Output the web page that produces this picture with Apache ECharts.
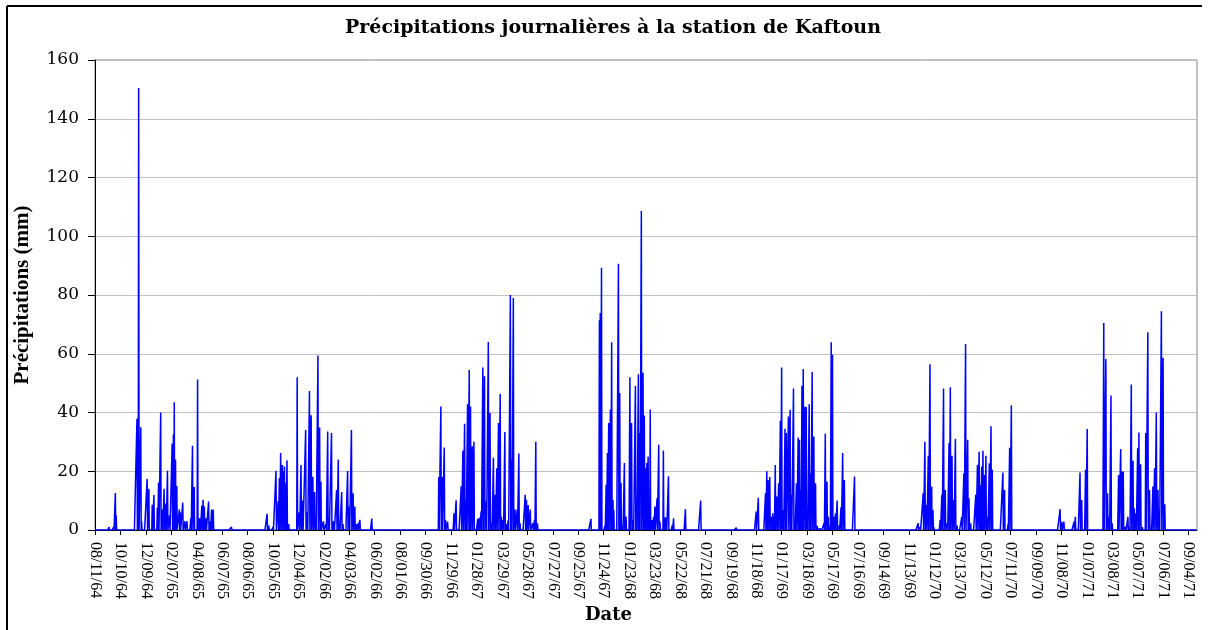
<!DOCTYPE html>
<html>
<head>
<meta charset="utf-8">
<script src="https://cdn.jsdelivr.net/npm/echarts@6/dist/echarts.min.js"></script>
<style>
  html, body { margin: 0; padding: 0; background: #ffffff; }
  #chart { width: 1210px; height: 630px; }
</style>
</head>
<body>
<div id="chart"></div>
<script>
// Tick labels every 60 days, starting 08/11/64
const tickLabels = ['08/11/64','10/10/64','12/09/64','02/07/65','04/08/65','06/07/65','08/06/65','10/05/65','12/04/65','02/02/66','04/03/66','06/02/66','08/01/66','09/30/66','11/29/66','01/28/67','03/29/67','05/28/67','07/27/67','09/25/67','11/24/67','01/23/68','03/23/68','05/22/68','07/21/68','09/19/68','11/18/68','01/17/69','03/18/69','05/17/69','07/16/69','09/14/69','11/13/69','01/12/70','03/13/70','05/12/70','07/11/70','09/09/70','11/08/70','01/07/71','03/08/71','05/07/71','07/06/71','09/04/71'];
const tickStepDays = 60;
const lastDay = 2600; // days since 08/11/64 covered by the record

// Rainy days: day offset since 08/11/64, and daily precipitation (mm). All other days are 0.
const rainDays = [
  33,44,48,50,99,101,103,108,110,123,127,135,139,147,150,155,159,163,167,171,176,182,185,187,190,193,199,201,207,212,217,226,230,234,242,245,248,252,255,258,262,268,272,275,279,322,
  406,410,420,427,432,435,438,442,445,447,450,453,457,477,482,486,490,497,501,506,510,514,518,521,526,530,533,539,545,549,552,558,561,564,570,574,577,582,585,596,600,605,609,613,617,622,625,653,
  811,816,819,824,827,832,847,852,864,868,872,875,879,883,886,890,894,897,903,907,911,915,919,923,928,932,936,940,944,948,952,956,959,963,967,971,975,980,983,987,991,996,1000,1003,1015,1018,1022,1027,1033,1037,1040,1044,
  1170,1190,1192,1195,1198,1203,1206,1209,1212,1216,1219,1222,1224,1235,1238,1241,1245,1249,1253,1262,1266,1270,1275,1278,1282,1285,1289,1293,1296,1299,1302,1305,1308,1310,1314,1318,1321,1326,1330,1333,1341,1344,1348,1353,1362,1365,1393,
  1429,1513,1560,1565,1582,1585,1588,1592,1596,1599,1602,1605,1609,1613,1617,1620,1624,1628,1631,1636,1640,1643,1648,1651,1655,1659,1662,1665,1668,1671,1675,1678,1681,1685,1688,1692,1696,1700,1704,1710,1720,1723,1727,1730,1734,1737,1740,1744,1747,1751,1756,1760,1764,1768,1792,
  1942,1947,1954,1958,1962,1966,1970,1974,1977,1979,1994,1998,2002,2006,2011,2015,2018,2022,2026,2030,2034,2039,2045,2050,2054,2059,2062,2066,2078,2082,2086,2089,2092,2095,2098,2102,2106,2110,2114,2117,2142,2146,2150,2154,2158,2162,
  2277,2281,2286,2310,2313,2324,2328,2337,2341,2380,2385,2389,2393,2397,2400,2415,2420,2423,2426,2432,2437,2441,2445,2449,2452,2456,2460,2463,2467,2471,2479,2484,2488,2492,2496,2500,2504,2508,2511,2516,2520,2524
];
const rainMm = [
  1,1,12.6,5,37.8,38,150.5,35,3,17.4,14,8.6,11.9,7.6,16.2,40,7,14,9,20.2,5,29.4,32.5,43.5,24,15,7,6,9.3,3,3,4,28.7,14.6,51.2,4,4,8.3,10.3,8,4,9.7,3,7,7,1,
  5.5,1.5,1,20.2,9.8,17.7,26.2,22.1,20,21.6,16,23.7,2,52,6,22.1,10,34,6,47.3,39.1,18.1,12.9,3.3,59.4,34.9,16.4,3,2,33.5,3.8,33,3,3,13.6,24,2,12.9,2,20.1,8,34,12.5,8,2,2.6,3.5,3.9,
  18,42,18,28.1,3.4,2.8,5.7,10.1,14.9,27.1,36.2,10,42.8,54.5,42,28.5,30,0.6,3.8,4.2,6.4,55.3,52.3,9.7,64,39.8,2.3,24.6,12,21,36.4,46.3,4.5,3.4,33.4,2,3.4,80,24,79,7,7,26,2.3,12,10.3,8.5,7,2.3,3.4,30,2.3,
  3.8,71.4,73.9,89.3,0.6,1.5,15.4,26.2,36.4,41,63.9,10.2,6.8,90.6,46.6,16,1.7,22.8,4.5,52,36.4,3.4,49,10.2,53,33,108.6,53.5,39,21,22.8,25,5.7,41,3.4,4.5,8,10.8,29,2.8,27.1,4.3,4.3,18.3,1.7,4,7.1,
  10,0.8,6.3,11,12.6,20,17,18,4.5,5.7,4.5,22.1,11.4,15.9,37.2,55.3,6.8,34.5,33,38.6,40.9,12,48.2,2.3,15.9,31.5,30.7,13.6,49.1,54.8,42,41.9,2.3,42.8,19.4,53.8,31.8,15.9,1.4,0.5,2.3,32.8,16.5,4.5,1.1,63.9,59.7,4.5,5.7,10,1.4,7.7,26.2,17,18.2,
  2.3,1,12.6,30,8.6,25.3,56.4,14.8,6.8,1,3.4,12,48.2,13.6,2.3,29.6,48.6,25.3,10.2,31,1.5,0.5,4.5,19.3,63.3,30.7,10.8,2.3,12,22.2,26.6,15.3,21.6,27,18.7,25.3,4.5,22.7,35.3,20.5,19.6,13.6,0.5,1.9,28,42.5,
  7.1,2.8,2.8,2.8,4.5,19.6,10.2,20.5,34.4,70.5,58.2,12.5,4.5,45.8,2.3,18.7,27.6,19.9,19.9,1.1,4.5,1,49.5,23.6,7.4,5.7,27.8,33.2,22.4,1,33,67.3,13.6,1,14.8,21,40,13.6,6.8,74.5,58.6,8.8
];

const yMin = 0, yMax = 160, yStep = 20;

// Build daily series (zero on days without rain)
const daily = new Array(lastDay + 1).fill(0);
rainDays.forEach((d, i) => { daily[d] = rainMm[i]; });
const seriesData = daily.map((v, d) => [d, v]);
const tickValues = tickLabels.map((_, i) => i * tickStepDays);

const chart = echarts.init(document.getElementById('chart'), null, { renderer: 'canvas' });
chart.setOption({
  animation: false,
  backgroundColor: '#ffffff',
  title: {
    text: 'Précipitations journalières à la station de Kaftoun',
    left: 608,
    top: 14,
    textAlign: 'center',
    textStyle: { fontFamily: 'DejaVu Serif', fontWeight: 'bold', fontSize: 19, color: '#000000' }
  },
  graphic: [
    { type: 'line', shape: { x1: 7, y1: 6, x2: 1202, y2: 6 }, style: { stroke: '#000000', lineWidth: 2 }, silent: true },
    { type: 'line', shape: { x1: 7, y1: 6, x2: 7, y2: 630 }, style: { stroke: '#000000', lineWidth: 2 }, silent: true }
  ],
  grid: {
    left: 95, right: 13, top: 60, bottom: 100,
    show: true, borderColor: '#808080', borderWidth: 1, backgroundColor: '#ffffff'
  },
  xAxis: {
    type: 'value',
    min: 0,
    max: lastDay,
    interval: tickStepDays,
    name: 'Date',
    nameLocation: 'middle',
    nameGap: 72,
    nameTextStyle: { fontFamily: 'DejaVu Serif', fontWeight: 'bold', fontSize: 18, color: '#000000', padding: [0, 75, 0, 0] },
    axisLine: { show: true, onZero: false, lineStyle: { color: '#000000', width: 1 } },
    axisTick: { show: true, inside: false, length: 5, customValues: tickValues, lineStyle: { color: '#000000' } },
    axisLabel: {
      customValues: tickValues,
      rotate: -90,
      margin: 12,
      fontFamily: 'Liberation Serif',
      fontSize: 16,
      color: '#000000',
      formatter: function (v) {
        const i = Math.round(v / tickStepDays);
        return (v % tickStepDays === 0 && tickLabels[i]) ? tickLabels[i] : '';
      }
    },
    splitLine: { show: false }
  },
  yAxis: {
    type: 'value',
    min: yMin,
    max: yMax,
    interval: yStep,
    name: 'Précipitations (mm)',
    nameLocation: 'middle',
    nameRotate: 90,
    nameGap: 62,
    nameTextStyle: { fontFamily: 'Liberation Serif', fontWeight: 'bold', fontSize: 21, color: '#000000' },
    axisLine: { show: true, lineStyle: { color: '#000000', width: 1 } },
    axisTick: { show: true, inside: false, length: 7, lineStyle: { color: '#000000' } },
    axisLabel: { margin: 16, fontFamily: 'DejaVu Serif', fontSize: 17, color: '#000000' },
    splitLine: { show: true, lineStyle: { color: '#c0c0c0', width: 1 } }
  },
  series: [{
    type: 'line',
    data: seriesData,
    showSymbol: false,
    symbol: 'none',
    lineStyle: { color: '#0000ff', width: 1.5 },
    itemStyle: { color: '#0000ff' },
    z: 3
  }]
});
</script>
</body>
</html>
